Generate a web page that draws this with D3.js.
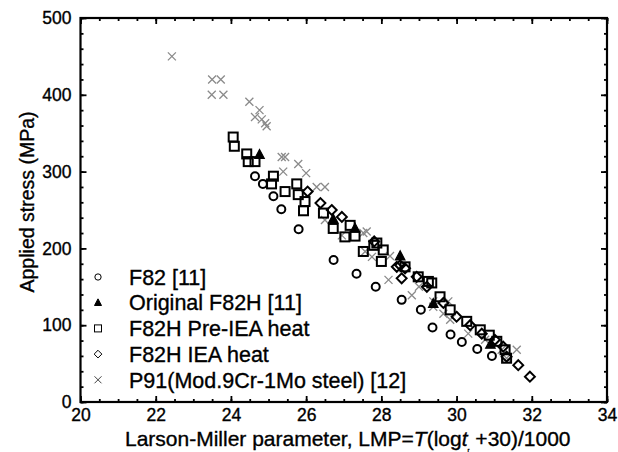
<!DOCTYPE html>
<html>
<head>
<meta charset="utf-8">
<script src="https://cdn.jsdelivr.net/npm/d3@7"></script>
<style>
  body { margin: 0; background: #fff; }
  svg text { font-family: "Liberation Sans", Arial, sans-serif; fill: #000; stroke: #000; stroke-width: 0.35px; }
</style>
</head>
<body>
<div id="wrapper"></div>
<script>
// data: [LMP, stress MPa]
const f82 = [[24.64,294],[24.85,284],[25.13,268],[25.34,251],[25.8,225],[26.73,185],[27.34,167],
  [27.85,150],[28.54,133],[29.05,120],[29.36,97],[29.84,88],[30.14,78],[30.55,69],[30.94,60]]

const originalF82H = [[24.76,322],[26.72,238],[27.3,226],[28.5,190],[29.38,128],[30.9,75]]

const preIEA = [[24.06,345],[24.09,333],[24.42,323],[24.46,313],[24.64,313],[25.13,294],[25.08,284],
  [25.44,274],[25.75,284],[25.79,270],[25.97,261],[25.93,249],[26.46,246],[26.72,226],[27.03,215],
  [27.17,230],[27.3,216],[27.52,196],[27.8,204],[27.88,207],[28.05,198],[28.0,183],[28.63,176],
  [28.98,163],[29.25,157],[29.34,155],[29.56,137],[29.83,120],[30.27,105],[30.63,94],[30.87,87],
  [31.07,79],[31.29,68],[31.33,57]]

const iea = [[26.04,274],[26.38,259],[26.68,250],[26.95,241],[27.81,209],[28.41,176],[28.5,178],
  [28.63,174],[28.54,161],[28.94,163],[29.21,150],[29.65,129],[30.0,111],[30.36,100],[30.67,89],
  [31.02,81],[31.24,72],[31.33,59],[31.64,48],[31.95,33]]

const p91 = [[22.43,450],[23.5,420],[23.73,420],[23.49,400],[23.8,400],[24.49,391],[24.64,371],
  [24.76,380],[24.82,368],[24.91,363],[24.95,359],[25.35,319],[25.44,319],[25.39,300],[25.79,310],
  [26.0,298],[26.28,280],[26.5,280],[26.5,237],[26.95,217],[27.52,220],[27.61,222],[27.57,196],
  [27.75,189],[28.23,190],[28.19,159],[28.81,139],[29.0,150],[29.38,124],[29.65,115],[29.38,131],
  [29.78,131],[29.83,107],[30.31,89],[30.76,81],[31.2,68],[31.33,57],[31.6,68]]

const legendLabels = ["F82 [11]", "Original F82H [11]", "F82H Pre-IEA heat", "F82H IEA heat",
  "P91(Mod.9Cr-1Mo steel) [12]"]

const xTicks = [20, 22, 24, 26, 28, 30, 32, 34]
const yTicks = [0, 100, 200, 300, 400, 500]

// dimensions
const width = 618
const height = 452
const margin = { top: 18, right: 11, bottom: 50, left: 80.5 }
const innerW = width - margin.left - margin.right
const innerH = height - margin.top - margin.bottom

const svg = d3.select("#wrapper").append("svg")
  .attr("width", width)
  .attr("height", height)

const bounds = svg.append("g")
  .attr("transform", `translate(${margin.left},${margin.top})`)

const x = d3.scaleLinear().domain([20, 34]).range([0, innerW])
const y = d3.scaleLinear().domain([0, 500]).range([innerH, 0])

// axes (ticks point inward)
const styleAxis = g => {
  g.select(".domain").remove()
  g.selectAll("line").attr("stroke", "#000").attr("stroke-width", 1.8)
  g.selectAll("text").style("font-size", "17.5px")
}
bounds.append("g").attr("transform", `translate(0,${innerH})`)
  .call(d3.axisBottom(x).tickValues(d3.range(20, 34.01, 0.5)).tickSize(-3).tickFormat(""))
  .call(styleAxis)
bounds.append("g").attr("transform", `translate(0,${innerH})`)
  .call(d3.axisBottom(x).tickValues(xTicks).tickSize(-6).tickPadding(7).tickFormat(d3.format("d")))
  .call(styleAxis)
bounds.append("g")
  .call(d3.axisTop(x).tickValues(d3.range(20, 34.01, 0.5)).tickSize(-3).tickFormat(""))
  .call(styleAxis)
bounds.append("g")
  .call(d3.axisTop(x).tickValues(xTicks).tickSize(-6).tickFormat(""))
  .call(styleAxis)
bounds.append("g")
  .call(d3.axisLeft(y).tickValues(d3.range(0, 501, 20)).tickSize(-3).tickFormat(""))
  .call(styleAxis)
bounds.append("g")
  .call(d3.axisLeft(y).tickValues(yTicks).tickSize(-6).tickPadding(9).tickFormat(d3.format("d")))
  .call(styleAxis)
bounds.append("g").attr("transform", `translate(${innerW},0)`)
  .call(d3.axisRight(y).tickValues(d3.range(0, 501, 20)).tickSize(-3).tickFormat(""))
  .call(styleAxis)
bounds.append("g").attr("transform", `translate(${innerW},0)`)
  .call(d3.axisRight(y).tickValues(yTicks).tickSize(-6).tickFormat(""))
  .call(styleAxis)

bounds.append("rect")
  .attr("width", innerW).attr("height", innerH)
  .attr("fill", "none").attr("stroke", "#000").attr("stroke-width", 2.2)

// markers
const symbols = {
  circle: (g, s) => g.append("circle").attr("r", s * 0.42).attr("fill", "none"),
  triangle: (g, s) => g.append("path").attr("d", `M0,${-s*0.55}L${s*0.5},${s*0.4}L${-s*0.5},${s*0.4}Z`).attr("fill", "#000"),
  square: (g, s) => g.append("rect").attr("x", -s/2).attr("y", -s/2).attr("width", s).attr("height", s).attr("fill", "none"),
  diamond: (g, s) => g.append("path").attr("d", `M0,${-s*0.55}L${s*0.55},0L0,${s*0.55}L${-s*0.55},0Z`).attr("fill", "none"),
  cross: (g, s) => g.append("path").attr("d", `M${-s/2},${-s/2}L${s/2},${s/2}M${-s/2},${s/2}L${s/2},${-s/2}`).attr("fill", "none")
}

const series = [
  { data: f82, shape: "circle", color: "#000", sw: 2, size: 9.5 },
  { data: originalF82H, shape: "triangle", color: "#000", sw: 1.2, size: 9.5 },
  { data: preIEA, shape: "square", color: "#000", sw: 2, size: 9 },
  { data: iea, shape: "diamond", color: "#000", sw: 2, size: 9 },
  { data: p91, shape: "cross", color: "#8a8a8a", sw: 1.3, size: 8 }
]

const marks = bounds.append("g")
// draw crosses first, then black symbols on top
;[4, 0, 2, 3, 1].forEach(i => {
  const s = series[i]
  s.data.forEach(d => {
    const g = marks.append("g")
      .attr("transform", `translate(${x(d[0])},${y(d[1])})`)
    symbols[s.shape](g, s.size)
      .attr("stroke", s.color).attr("stroke-width", s.sw)
  })
})

// legend
const legend = bounds.append("g").attr("transform", `translate(${98 - margin.left},${277 - margin.top})`)
series.forEach((s, i) => {
  const row = legend.append("g").attr("transform", `translate(0,${i * 25.7})`)
  symbols[s.shape](row, s.shape === "circle" ? 7.5 : 7)
    .attr("stroke", s.shape === "cross" ? "#444" : "#000").attr("stroke-width", 1)
  row.append("text")
    .attr("x", 31).attr("dy", "0.36em")
    .style("font-size", "21.5px")
    .text(legendLabels[i])
})

// axis titles
const xTitle = svg.append("text")
  .attr("x", margin.left + innerW / 2 + 4).attr("y", 446)
  .attr("text-anchor", "middle")
  .style("font-size", "21px")
xTitle.append("tspan").text("Larson-Miller parameter, LMP=")
xTitle.append("tspan").style("font-style", "italic").text("T")
xTitle.append("tspan").text("(log")
xTitle.append("tspan").style("font-style", "italic").text("t")
xTitle.append("tspan").style("font-size", "6px").attr("dy", 6).text("r")
xTitle.append("tspan").attr("dy", -6).text(" +30)/1000")

svg.append("text")
  .attr("transform", `translate(34,${margin.top + innerH / 2 - 8}) rotate(-90)`)
  .attr("text-anchor", "middle")
  .style("font-size", "19.5px")
  .text("Applied stress (MPa)")
</script>
</body>
</html>
